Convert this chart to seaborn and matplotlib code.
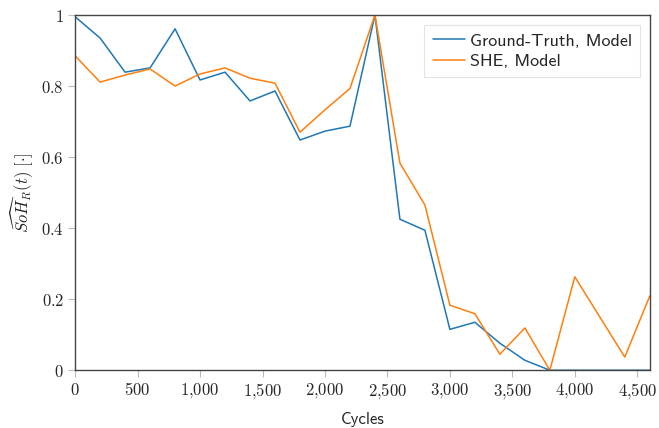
import pandas as pd
import matplotlib
matplotlib.use("Agg")
import matplotlib.pyplot as plt
from matplotlib.ticker import FuncFormatter, MultipleLocator
import seaborn as sns

# ================================
# DATA
# ================================

cycles = [0, 200, 400, 600, 800, 1000, 1200, 1400, 1600, 1800, 2000, 2200,
          2400, 2600, 2800, 3000, 3200, 3400, 3600, 3800, 4000, 4200, 4400, 4600]

soh_ground_truth = [0.995, 0.935, 0.839, 0.851, 0.961, 0.817, 0.839, 0.758,
                    0.786, 0.648, 0.673, 0.687, 1.0, 0.425, 0.394, 0.115,
                    0.135, 0.076, 0.028, 0.0, 0.0, 0.0, 0.0, 0.0]

soh_she = [0.885, 0.811, 0.831, 0.848, 0.800, 0.834, 0.851, 0.822,
           0.808, 0.670, 0.733, 0.793, 1.0, 0.583, 0.465, 0.183,
           0.159, 0.045, 0.119, 0.0, 0.263, 0.150, 0.037, 0.209]

series_names = ["Ground-Truth, Model", "SHE, Model"]

df = pd.concat([
    pd.DataFrame({"Cycles": cycles, "SoH": soh_ground_truth, "series": series_names[0]}),
    pd.DataFrame({"Cycles": cycles, "SoH": soh_she, "series": series_names[1]}),
])

# ================================
# PLOT
# ================================

sns.set_style("white")
plt.rcParams["mathtext.fontset"] = "cm"

fig, ax = plt.subplots(figsize=(6.59, 4.28), dpi=100)
fig.subplots_adjust(left=0.114, right=0.986, top=0.965, bottom=0.135)

sns.lineplot(
    data=df, x="Cycles", y="SoH", hue="series",
    palette=["#1f77b4", "#ff7f0e"], linewidth=1.1, ax=ax,
)

ax.set_xlim(0, 4600)
ax.set_ylim(0, 1)
ax.xaxis.set_major_locator(MultipleLocator(500))
ax.yaxis.set_major_locator(MultipleLocator(0.2))


def _fmt_x(v, pos):
    return "$" + f"{v:,.0f}".replace(",", "{,}") + "$"


def _fmt_y(v, pos):
    s = f"{v:.1f}"
    if s in ("0.0", "1.0"):
        s = s[0]
    return "$" + s + "$"


ax.xaxis.set_major_formatter(FuncFormatter(_fmt_x))
ax.yaxis.set_major_formatter(FuncFormatter(_fmt_y))
ax.tick_params(axis="both", direction="out", length=5, width=0.8,
               color="#bbbbbb", labelsize=12, pad=3, bottom=True, left=True)

for sp in ax.spines.values():
    sp.set_color("#444444")
    sp.set_linewidth(1.0)

ax.set_xlabel("Cycles", fontfamily="cmss10", fontsize=12, labelpad=8)
ax.set_ylabel(r"$\widehat{SoH}_R(t)\ [\cdot]$", fontsize=12, labelpad=4)

leg = ax.legend(
    loc="upper right", prop={"family": "cmss10", "size": 13},
    frameon=True, fancybox=False, edgecolor="#dddddd",
    handlelength=1.8, handletextpad=0.25, borderpad=0.45, labelspacing=0.25,
    borderaxespad=0.55,
)
leg.get_frame().set_linewidth(0.8)

fig.savefig("out.png", dpi=100)
